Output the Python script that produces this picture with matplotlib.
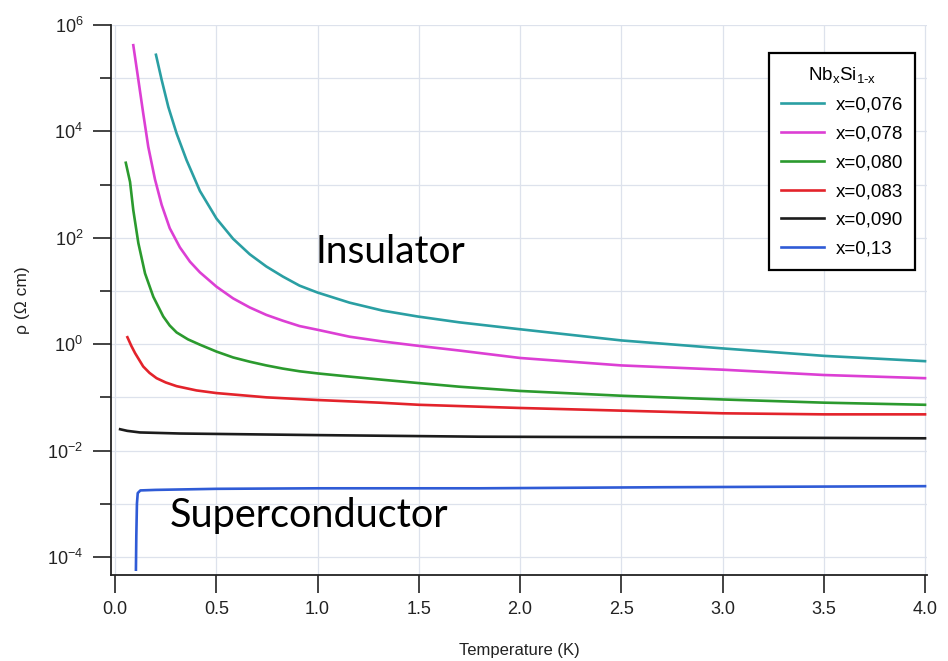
import numpy as np
import matplotlib.pyplot as plt
from matplotlib.ticker import FixedLocator, NullFormatter

plt.rcParams['font.family'] = ['Liberation Sans', 'DejaVu Sans']
plt.rcParams['mathtext.default'] = 'regular'

# Temperature (K) and log10(rho / Ohm cm)
t_076 = [0.202, 0.230, 0.263, 0.304, 0.353, 0.419, 0.501, 0.583, 0.665, 0.747,
         0.829, 0.911, 1.0, 1.158, 1.322, 1.494, 1.700, 2.0, 2.5, 3.0, 3.5, 4.0]
lr_076 = [5.44, 4.97, 4.46, 3.96, 3.46, 2.88, 2.36, 1.98, 1.69, 1.46,
          1.27, 1.10, 0.97, 0.78, 0.63, 0.52, 0.41, 0.28, 0.07, -0.08, -0.22, -0.32]

t_078 = [0.090, 0.115, 0.139, 0.164, 0.197, 0.230, 0.270, 0.320, 0.370, 0.419,
         0.501, 0.583, 0.665, 0.747, 0.829, 0.911, 1.0, 1.158, 1.322, 1.494,
         1.700, 2.0, 2.5, 3.0, 3.5, 4.0]
lr_078 = [5.62, 4.97, 4.34, 3.71, 3.10, 2.62, 2.18, 1.82, 1.55, 1.35,
          1.08, 0.86, 0.69, 0.55, 0.44, 0.34, 0.27, 0.14, 0.05, -0.03,
          -0.12, -0.26, -0.40, -0.48, -0.58, -0.64]

t_080 = [0.053, 0.074, 0.090, 0.115, 0.148, 0.189, 0.238, 0.270, 0.304, 0.360,
         0.419, 0.501, 0.583, 0.665, 0.747, 0.829, 0.911, 1.0, 1.158, 1.322,
         1.494, 1.700, 2.0, 2.5, 3.0, 3.5, 4.0]
lr_080 = [3.41, 3.05, 2.52, 1.90, 1.33, 0.89, 0.52, 0.35, 0.22, 0.09,
          -0.01, -0.14, -0.25, -0.33, -0.40, -0.46, -0.51, -0.55, -0.61, -0.67,
          -0.73, -0.80, -0.88, -0.97, -1.04, -1.10, -1.14]

t_083 = [0.061, 0.080, 0.099, 0.139, 0.170, 0.205, 0.250, 0.304, 0.402, 0.501,
         0.747, 1.0, 1.305, 1.5, 2.0, 2.5, 3.0, 3.5, 4.0]
lr_083 = [0.13, -0.03, -0.17, -0.42, -0.54, -0.64, -0.72, -0.79, -0.87, -0.92,
          -1.00, -1.05, -1.10, -1.14, -1.20, -1.25, -1.30, -1.32, -1.32]

t_090 = [0.025, 0.06, 0.123, 0.320, 1.0, 1.8, 2.685, 4.0]
lr_090 = [-1.60, -1.63, -1.66, -1.68, -1.71, -1.74, -1.75, -1.77]

t_13 = [0.103, 0.105, 0.108, 0.112, 0.125, 0.2, 0.5, 1.0, 1.8, 2.7, 4.0]
lr_13 = [-4.24, -3.6, -3.0, -2.80, -2.75, -2.74, -2.72, -2.71, -2.71, -2.69, -2.67]

series = [
    (t_076, lr_076, 'x=0,076', '#2a9fa3'),
    (t_078, lr_078, 'x=0,078', '#dc3fd4'),
    (t_080, lr_080, 'x=0,080', '#2b9a2e'),
    (t_083, lr_083, 'x=0,083', '#e3232b'),
    (t_090, lr_090, 'x=0,090', '#1c1c1c'),
    (t_13, lr_13, 'x=0,13', '#2f5bd6'),
]

x_ticks = [0.0, 0.5, 1.0, 1.5, 2.0, 2.5, 3.0, 3.5, 4.0]
y_major = [1e-4, 1e-2, 1e0, 1e2, 1e4, 1e6]
y_minor = [1e-3, 1e-1, 1e1, 1e3, 1e5]

fig = plt.figure(figsize=(9.48, 6.61), dpi=100)
ax = fig.add_axes([0.1171, 0.1301, 0.8608, 0.8321])

for t, lr, label, color in series:
    ax.plot(t, 10 ** np.array(lr), color=color, lw=1.9, label=label,
            solid_joinstyle='round')

ax.set_yscale('log')
ax.set_xlim(-0.02, 4.01)
ax.set_ylim(10 ** -4.34, 1e6)

ax.set_xticks(x_ticks)
ax.set_xticklabels([f'{v:.1f}' for v in x_ticks])
ax.yaxis.set_major_locator(FixedLocator(y_major))
ax.yaxis.set_minor_locator(FixedLocator(y_minor))
ax.yaxis.set_minor_formatter(NullFormatter())
ax.xaxis.set_minor_locator(FixedLocator([]))

ax.tick_params(axis='both', which='major', direction='out', length=13, width=1.2,
               colors='#222222', labelsize=13)
ax.tick_params(axis='y', which='major', pad=7)
ax.tick_params(axis='x', which='major', pad=6)
ax.tick_params(axis='y', which='minor', direction='out', length=8, width=1.2,
               colors='#222222')

ax.grid(True, which='major', axis='x', color='#dde2ec', lw=0.9)
ax.grid(True, which='both', axis='y', color='#dde2ec', lw=0.9)
ax.set_axisbelow(True)

for side in ['top', 'right']:
    ax.spines[side].set_visible(False)
for side in ['left', 'bottom']:
    ax.spines[side].set_linewidth(1.3)
    ax.spines[side].set_color('#222222')

ax.set_xlabel('Temperature (K)', fontsize=12, color='#222222', labelpad=18)
ax.set_ylabel('ρ (Ω cm)', fontsize=12.5, color='#222222', labelpad=12)

ax.text(1.36, 10 ** 1.73, 'Insulator', fontsize=28, family='Lato',
        ha='center', va='center', color='black')
ax.text(0.958, 10 ** -3.23, 'Superconductor', fontsize=28.5, family='Lato',
        ha='center', va='center', color='black')

leg = ax.legend(title='Nb$_x$Si$_{1\u2010x}$', loc='upper right',
                bbox_to_anchor=(915 / 948, 1 - 53 / 661),
                bbox_transform=fig.transFigure, borderaxespad=0,
                fontsize=13.5, title_fontsize=13.5, frameon=True, fancybox=False,
                handlelength=2.3, handletextpad=0.6, labelspacing=0.62,
                borderpad=0.65)
leg.get_frame().set_edgecolor('black')
leg.get_frame().set_linewidth(1.6)
leg.get_frame().set_alpha(1)

fig.savefig('out.png', dpi=100)
